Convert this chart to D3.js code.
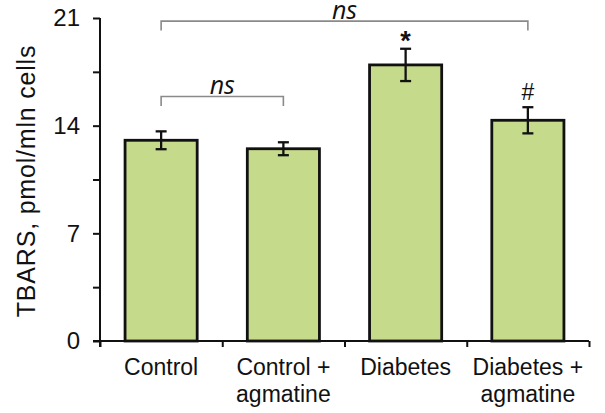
<!DOCTYPE html>
<html><head><meta charset="utf-8">
<script src="https://cdn.jsdelivr.net/npm/d3@7"></script>
<style>body{margin:0;background:#fff}svg{display:block}</style>
</head><body>
<svg id="c" width="605" height="413"></svg>
<script>
const categories = [["Control"], ["Control +", "agmatine"], ["Diabetes"], ["Diabetes +", "agmatine"]];
const values = [13.05, 12.5, 17.95, 14.35];
const errors = [0.58, 0.42, 1.05, 0.85];
const marks = ["", "", "*", "#"];
const yTicks = [0, 7, 14, 21];
const yMinor = [3.5, 10.5, 17.5];
const brackets = [{from: 0, to: 1, label: "ns", y: 15.9}, {from: 0, to: 3, label: "ns", y: 20.8}];

const svg = d3.select("#c");
const x = d3.scaleBand().domain(d3.range(categories.length)).range([100, 589]).paddingInner(0.41).paddingOuter(0.205);
const y = d3.scaleLinear().domain([0, 21]).range([341, 18]);
const font = "Liberation Sans, Arial, sans-serif";

// bars
svg.selectAll("rect.bar").data(values).join("rect")
  .attr("x", (d,i)=>x(i)).attr("width", x.bandwidth())
  .attr("y", d=>y(d)).attr("height", d=>y(0)-y(d))
  .attr("fill", "#c6da8b").attr("stroke", "#111").attr("stroke-width", 2.8);

// error bars
const eg = svg.append("g").attr("stroke", "#111").attr("stroke-width", 2.3);
values.forEach((v,i)=>{
  const cx = x(i) + x.bandwidth()/2;
  eg.append("line").attr("x1", cx).attr("x2", cx).attr("y1", y(v+errors[i])).attr("y2", y(v-errors[i]));
  [v+errors[i], v-errors[i]].forEach(e=>eg.append("line").attr("x1", cx-5.5).attr("x2", cx+5.5).attr("y1", y(e)).attr("y2", y(e)));
  if (marks[i]) svg.append("text").attr("x", cx).attr("y", y(v+errors[i]) - (marks[i]==="*"?-1:7))
    .attr("text-anchor","middle").attr("font-family", font).attr("font-weight", marks[i]==="*"?"bold":"normal")
    .attr("font-size", marks[i]==="*"?27:23).attr("fill","#111").text(marks[i]);
});

// y axis
const ya = svg.append("g").attr("transform","translate(100,0)")
  .call(d3.axisLeft(y).tickValues(yTicks).tickSize(7).tickPadding(13).tickFormat(d3.format("d")));
ya.select(".domain").attr("stroke","#111").attr("stroke-width",2).attr("d","M0,"+y(21)+"V"+(y(0)+6));
ya.selectAll(".tick line").attr("stroke","#111").attr("stroke-width",2);
ya.selectAll(".tick text").attr("font-family",font).attr("font-size",24).attr("fill","#111");
const ym = svg.append("g").attr("transform","translate(100,0)")
  .call(d3.axisLeft(y).tickValues(yMinor).tickSize(7).tickFormat(""));
ym.select(".domain").remove();
ym.selectAll(".tick line").attr("stroke","#111").attr("stroke-width",2);

// x axis
const xb = d3.scaleLinear().domain([0, categories.length]).range([100, 589]);
const xa = svg.append("g").attr("transform","translate(0,"+y(0)+")")
  .call(d3.axisBottom(xb).tickValues(d3.range(categories.length+1)).tickSize(6).tickFormat(""));
xa.select(".domain").attr("stroke","#111").attr("stroke-width",2).attr("d","M93,0H589");
xa.selectAll(".tick line").attr("stroke","#111").attr("stroke-width",2);

// category labels
categories.forEach((lines,i)=>{
  const t = svg.append("text").attr("x", x(i)+x.bandwidth()/2).attr("y", 375)
    .attr("text-anchor","middle").attr("font-family",font).attr("font-size",23).attr("fill","#111");
  lines.forEach((l,j)=>t.append("tspan").attr("x", x(i)+x.bandwidth()/2).attr("dy", j?27:0).text(l));
});

// y title
svg.append("text").attr("transform","translate(35,181) rotate(-90)").attr("text-anchor","middle")
  .attr("font-family",font).attr("font-size",25).attr("letter-spacing",0.8).attr("fill","#111").text("TBARS, pmol/mln cells");

// brackets
brackets.forEach(b=>{
  const x1 = x(b.from)+x.bandwidth()/2, x2 = x(b.to)+x.bandwidth()/2, yy = y(b.y);
  svg.append("path").attr("d", `M${x1},${yy+9.5}V${yy}H${x2}V${yy+9.5}`)
    .attr("fill","none").attr("stroke","#8a8a8a").attr("stroke-width",1.6);
  svg.append("text").attr("x",(x1+x2)/2).attr("y", yy-2.5).attr("text-anchor","middle")
    .attr("font-family","Open Sans, sans-serif").attr("font-style","italic").attr("font-size",25).attr("fill","#111").text(b.label);
});
</script>
</body></html>
